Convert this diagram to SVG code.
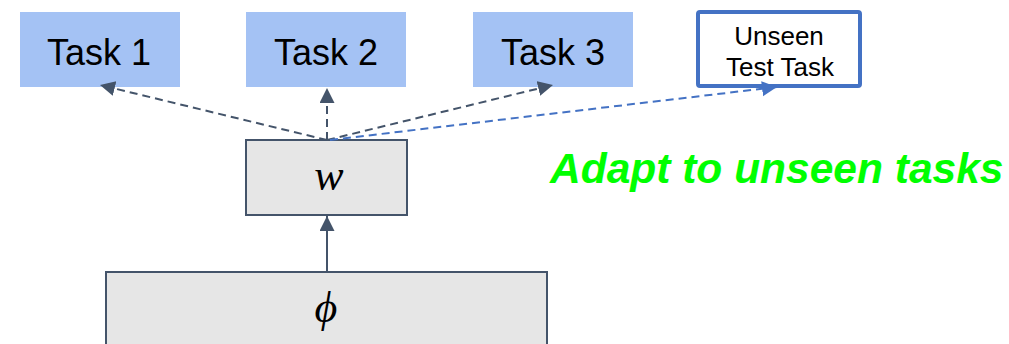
<svg xmlns="http://www.w3.org/2000/svg" width="1009" height="344" viewBox="0 0 1009 344">
  <style>
    .task rect { fill: #a4c2f4; }
    .task text { font-family: "Liberation Sans", Arial, sans-serif; font-size: 36px; fill: #000; text-anchor: middle; }
    .block rect { fill: #e6e6e6; stroke: #44546a; stroke-width: 2; }
    .math { font-family: "Liberation Serif", "DejaVu Serif", serif; font-style: italic; fill: #000; text-anchor: middle; }
    .dash-dark { stroke: #44546a; stroke-width: 2; stroke-dasharray: 8 5; fill: none; }
    .dash-blue { stroke: #4472c4; stroke-width: 2; stroke-dasharray: 8 5; fill: none; }
    .solid { stroke: #44546a; stroke-width: 2; fill: none; }
  </style>
  <defs>
    <marker id="head-dark" markerWidth="16" markerHeight="16" refX="15" refY="7.5" orient="auto" markerUnits="userSpaceOnUse">
      <path d="M0,0 L15,7.5 L0,15 Z" fill="#44546a"/>
    </marker>
    <marker id="head-blue" markerWidth="16" markerHeight="16" refX="15" refY="7.5" orient="auto" markerUnits="userSpaceOnUse">
      <path d="M0,0 L15,7.5 L0,15 Z" fill="#4472c4"/>
    </marker>
  </defs>

  <!-- task boxes -->
  <g id="task1" class="task">
    <rect x="20" y="12" width="160" height="75"/>
    <text x="99" y="65">Task 1</text>
  </g>
  <g id="task2" class="task">
    <rect x="246" y="12" width="160" height="75"/>
    <text x="326" y="65">Task 2</text>
  </g>
  <g id="task3" class="task">
    <rect x="473" y="12" width="160" height="75"/>
    <text x="553" y="65">Task 3</text>
  </g>
  <g id="unseen">
    <rect x="698" y="12" width="162" height="74" rx="2" fill="#fff" stroke="#4472c4" stroke-width="4"/>
    <text x="779" y="45" font-family="'Liberation Sans', Arial, sans-serif" font-size="26" text-anchor="middle">Unseen</text>
    <text x="780" y="76" font-family="'Liberation Sans', Arial, sans-serif" font-size="26" text-anchor="middle">Test Task</text>
  </g>

  <!-- head and backbone -->
  <g id="w" class="block">
    <rect x="246" y="140" width="161" height="75"/>
    <text class="math" x="329" y="190" font-size="44">w</text>
  </g>
  <g id="phi" class="block">
    <rect x="106" y="272" width="441" height="80"/>
    <text class="math" x="326" y="322" font-size="44">ϕ</text>
  </g>

  <g id="caption">
    <text x="550" y="183" font-family="'Liberation Sans', Arial, sans-serif" font-size="42.5" font-weight="bold" font-style="italic" fill="#00ff00">Adapt to unseen tasks</text>
  </g>

  <!-- connectors -->
  <g id="connectors">
    <line class="solid" x1="327" y1="272" x2="327" y2="216" marker-end="url(#head-dark)"/>
    <line class="dash-dark" x1="327" y1="140" x2="100" y2="85" marker-end="url(#head-dark)"/>
    <line class="dash-dark" x1="327" y1="140" x2="327" y2="88" marker-end="url(#head-dark)"/>
    <line class="dash-dark" x1="327" y1="140" x2="553" y2="85" marker-end="url(#head-dark)"/>
    <line class="dash-blue" x1="330" y1="140" x2="777" y2="87" marker-end="url(#head-blue)"/>
  </g>
</svg>
